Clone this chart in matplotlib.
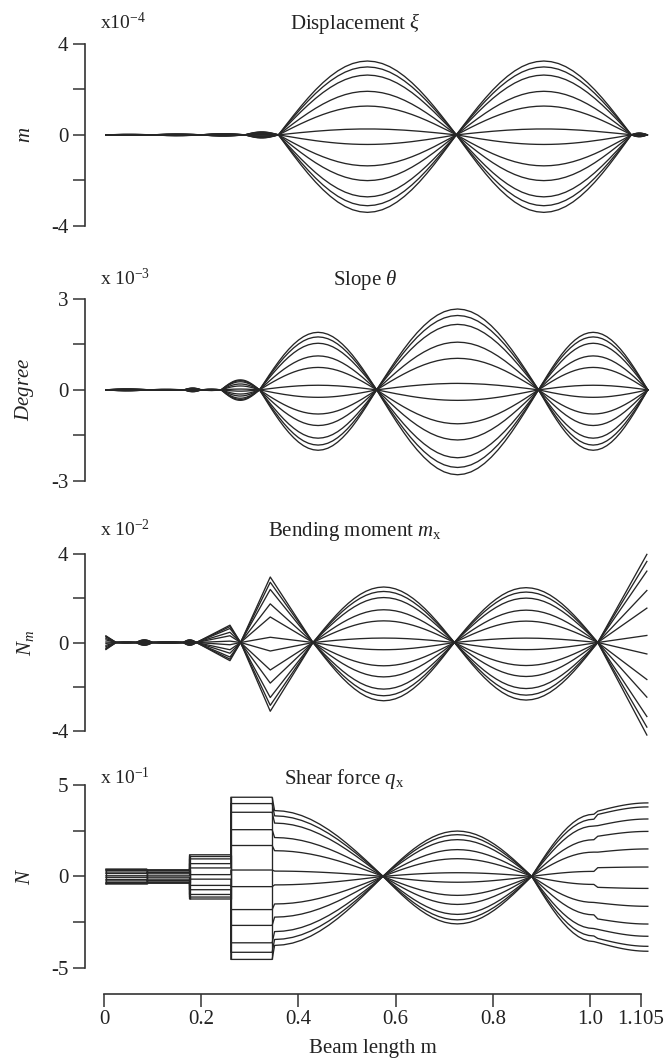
import numpy as np
import matplotlib
matplotlib.use("Agg")
import matplotlib.pyplot as plt

plt.rcParams.update({
    "font.family": ["Liberation Serif", "DejaVu Serif"],
    "mathtext.fontset": "custom",
    "mathtext.rm": "Liberation Serif",
    "mathtext.it": "Liberation Serif:italic",
    "mathtext.bf": "Liberation Serif:bold",
    "axes.unicode_minus": False,
})

# ---------------- data ----------------
# phase factors of the family of curves (fraction of the envelope)
PHASE_FACTORS = [1.0, 0.92, 0.81, 0.59, 0.39, 0.08, -0.13, -0.42, -0.62, -0.84, -0.96, -1.05]

# normalised shapes of one span (t along span, value)
HALF_WAVE = [0.0, 0.131, 0.259, 0.383, 0.5, 0.609, 0.707, 0.793, 0.866, 0.924, 0.966, 0.991, 1.0,
             0.991, 0.966, 0.924, 0.866, 0.793, 0.707, 0.609, 0.5, 0.383, 0.259, 0.131, 0.0]
QUARTER_FALL = [1.0, 0.991, 0.966, 0.924, 0.866, 0.793, 0.707, 0.609, 0.5, 0.383, 0.259, 0.131, 0.0]
QUARTER_RISE = QUARTER_FALL[::-1]

PROFILES = {
    "half": (list(np.linspace(0, 1, len(HALF_WAVE))), HALF_WAVE),
    "fall": (list(np.linspace(0, 1, len(QUARTER_FALL))), QUARTER_FALL),
    "rise": (list(np.linspace(0, 1, len(QUARTER_RISE))), QUARTER_RISE),
    "flat": ([0.0, 1.0], [1.0, 1.0]),
    "wedge": ([0.0, 1.0], [1.0, 0.0]),
    "ramp": ([0.0, 1.0], [0.0, 1.0]),
    "tri_mid": ([0.0, 0.41, 1.0], [0.0, 1.0, 0.0]),
    "tri_late": ([0.0, 0.76, 1.0], [0.0, 1.0, 0.0]),
}

# segments: (x start [m], x end [m], shape, base, amplitude)  -- values in the axis units
# base "END" = segment ends on the per-curve level given in SHEAR_END_LEVELS
DISP_SEGMENTS = [  # x10^-4 m
    (0.004, 0.100, "half", 0.0, 0.02),
    (0.100, 0.200, "half", 0.0, 0.035),
    (0.200, 0.290, "half", 0.0, 0.05),
    (0.290, 0.359, "half", 0.0, 0.13),
    (0.359, 0.725, "half", 0.0, 3.24),
    (0.725, 1.085, "half", 0.0, 3.24),
    (1.085, 1.118, "half", 0.0, 0.08),
]
SLOPE_SEGMENTS = [  # x10^-3 degree
    (0.004, 0.090, "half", 0.0, 0.03),
    (0.090, 0.165, "half", 0.0, 0.015),
    (0.165, 0.200, "half", 0.0, 0.06),
    (0.200, 0.241, "half", 0.0, 0.02),
    (0.241, 0.320, "half", 0.0, 0.33),
    (0.320, 0.561, "half", 0.0, 1.90),
    (0.561, 0.894, "half", 0.0, 2.67),
    (0.894, 1.119, "half", 0.0, 1.90),
]
BEND_SEGMENTS = [  # x10^-2 Nm
    (0.004, 0.025, "wedge", 0.0, 0.30),
    (0.025, 0.066, "half", 0.0, 0.02),
    (0.066, 0.100, "half", 0.0, 0.12),
    (0.100, 0.163, "half", 0.0, 0.03),
    (0.163, 0.190, "half", 0.0, 0.12),
    (0.190, 0.281, "tri_late", 0.0, 0.78),
    (0.281, 0.430, "tri_mid", 0.0, 2.95),
    (0.430, 0.721, "half", 0.0, 2.50),
    (0.721, 1.016, "half", 0.0, 2.47),
    (1.016, 1.117, "ramp", 0.0, 3.97),
]
SHEAR_SEGMENTS = [  # x10^-1 N
    (0.004, 0.088, "flat", 0.0, 0.40),
    (0.088, 0.176, "flat", 0.0, 0.36),
    (0.176, 0.261, "flat", 0.0, 1.18),
    (0.261, 0.346, "flat", 0.0, 4.33),
    (0.351, 0.574, "fall", 0.0, 3.60),
    (0.574, 0.880, "half", 0.0, 2.48),
    (0.880, 1.008, "rise", 0.0, 3.40),
    (1.016, 1.119, "rise", "END", 0.45),
]
SHEAR_END_LEVELS = [4.02, 3.80, 3.14, 2.46, 1.50, 0.51, -0.66, -1.64, -2.61, -3.28, -3.83, -4.10]

TITLES = ["Displacement $\\xi$", "Slope $\\theta$", "Bending moment $m_{\\rm x}$", "Shear force $q_{\\rm x}$"]
SCALE_LABELS = ["x10$^{-4}$", "x 10$^{-3}$", "x 10$^{-2}$", "x 10$^{-1}$"]
Y_LABELS = ["$m$", "$Degree$", "$N_m$", "$N$"]
Y_TICK_TOPS = [4, 3, 4, 5]
X_TICKS = [0, 0.2, 0.4, 0.6, 0.8, 1.0, 1.105]
X_TICK_LABELS = ["0", "0.2", "0.4", "0.6", "0.8", "1.0", "1.105"]
X_LABEL = "Beam length m"

# ---------------- layout (pixels) ----------------
W, H = 667, 1059
fig = plt.figure(figsize=(W / 100, H / 100), dpi=100)

X_SPINE_PX, X0_PX, PX_PER_M, AX_RIGHT_PX = 85, 104, 486, 660
XLO = -(X0_PX - X_SPINE_PX) / PX_PER_M
XHI = (AX_RIGHT_PX - X0_PX) / PX_PER_M

# (pixel of +T tick, pixel of -T tick)
PANEL_PX = [(43.7, 226.0), (299.0, 480.7), (553.7, 731.3), (785.0, 967.7)]
TITLE_POS = [(355, 29), (365, 285), (355, 536), (344, 784)]
SCALE_POS = [(100, 29), (100, 285), (100, 536), (100, 784)]
YLABEL_X = 25

LINE_COLOR = "#262626"
LINE_W = 0.95
AX_COLOR = "#333333"
TICK_FS = 15


def fx(px):
    return px / W


def fy(py):
    return 1 - py / H


def build_curve(segments, k, f, end_levels=None):
    xs, ys = [], []
    for x0, x1, shape, base, amp in segments:
        t, v = PROFILES[shape]
        t = np.asarray(t, float)
        v = np.asarray(v, float)
        if base == "END":
            b = end_levels[k] - f * amp
        else:
            b = f * base
        xs.extend(x0 + (x1 - x0) * t)
        ys.extend(b + f * amp * v)
    return np.array(xs), np.array(ys)


ALL_SEGMENTS = [DISP_SEGMENTS, SLOPE_SEGMENTS, BEND_SEGMENTS, SHEAR_SEGMENTS]
END_LEVELS = [None, None, None, SHEAR_END_LEVELS]

for i, segs in enumerate(ALL_SEGMENTS):
    top_px, bot_px = PANEL_PX[i]
    T = Y_TICK_TOPS[i]
    ppu = (bot_px - top_px) / (2 * T)
    L = T * 1.15
    center = (top_px + bot_px) / 2
    ax_top = center - L * ppu
    ax_h = 2 * L * ppu
    ax = fig.add_axes([fx(X_SPINE_PX), fy(ax_top + ax_h), fx(AX_RIGHT_PX - X_SPINE_PX), ax_h / H])
    ax.patch.set_visible(False)
    ax.set_xlim(XLO, XHI)
    ax.set_ylim(-L, L)

    for k, f in enumerate(PHASE_FACTORS):
        xs, ys = build_curve(segs, k, f, END_LEVELS[i])
        ax.plot(xs, ys, color=LINE_COLOR, lw=LINE_W, solid_joinstyle="round")
    # vertical edges of the constant (stepped) segments
    for x0, x1, shape, base, amp in segs:
        if shape == "flat":
            lo = min(PHASE_FACTORS) * (base + amp)
            hi = max(PHASE_FACTORS) * (base + amp)
            ax.vlines([x0, x1], lo, hi, color=LINE_COLOR, lw=LINE_W)

    for s in ["top", "right", "bottom"]:
        ax.spines[s].set_visible(False)
    ax.spines["left"].set_bounds(-T, T)
    ax.spines["left"].set_color(AX_COLOR)
    ax.spines["left"].set_linewidth(1.2)
    ax.set_xticks([])
    ax.set_yticks([-T, -T / 2, 0, T / 2, T])
    ax.set_yticklabels(["-%d" % T, "", "0", "", "%d" % T])
    ax.tick_params(axis="y", direction="out", length=9, width=1.1, color=AX_COLOR,
                   labelsize=TICK_FS, pad=3, labelcolor="#222222")

    fig.text(fx(TITLE_POS[i][0]), fy(TITLE_POS[i][1]), TITLES[i], ha="center", va="baseline",
             fontsize=15, color="#222222")
    fig.text(fx(SCALE_POS[i][0]), fy(SCALE_POS[i][1]), SCALE_LABELS[i], ha="left", va="baseline",
             fontsize=14, color="#222222")
    fig.text(fx(YLABEL_X), fy(center), Y_LABELS[i], ha="center", va="center", rotation=90,
             fontsize=15, color="#222222")

# bottom distance axis
axb = fig.add_axes([fx(X_SPINE_PX), fy(993.5), fx(AX_RIGHT_PX - X_SPINE_PX), 0.004])
axb.patch.set_visible(False)
axb.set_xlim(XLO, XHI)
for s in ["top", "right", "left"]:
    axb.spines[s].set_visible(False)
axb.spines["bottom"].set_bounds(X_TICKS[0], X_TICKS[-1])
axb.spines["bottom"].set_color(AX_COLOR)
axb.spines["bottom"].set_linewidth(1.2)
axb.set_yticks([])
axb.set_xticks(X_TICKS)
axb.set_xticklabels(X_TICK_LABELS)
axb.tick_params(axis="x", direction="out", length=9, width=1.1, color=AX_COLOR,
                labelsize=TICK_FS, pad=3, labelcolor="#222222")
fig.text(fx(373), fy(1048), X_LABEL, ha="center", va="center", fontsize=15, color="#222222")

fig.savefig("out.png", dpi=100)
